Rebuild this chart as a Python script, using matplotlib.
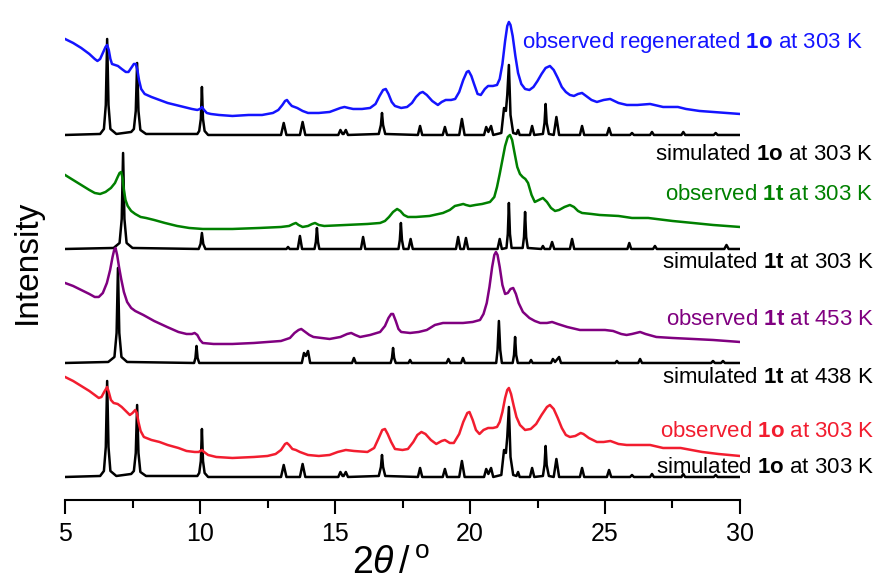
import numpy as np
import matplotlib.pyplot as plt
from matplotlib.ticker import MultipleLocator

plt.rcParams['font.family'] = ['Liberation Sans', 'DejaVu Sans']
plt.rcParams['mathtext.fontset'] = 'custom'
plt.rcParams['mathtext.rm'] = 'Liberation Sans'
plt.rcParams['mathtext.it'] = 'Liberation Sans:italic'
plt.rcParams['mathtext.bf'] = 'Liberation Sans:bold'

# simulated pattern of 1o at 303 K (2theta, intensity)
sim_1o = [(5.0, 0), (6.3, 1), (6.44, 6), (6.51, 30), (6.56, 96), (6.61, 30), (6.68, 6), (6.9, 1),
          (7.45, 3), (7.55, 6), (7.62, 24), (7.67, 72), (7.72, 24), (7.79, 5), (8.0, 1),
          (9.9, 1), (9.97, 4), (10.03, 16), (10.07, 48), (10.11, 16), (10.17, 4), (10.3, 0),
          (13.0, 0), (13.1, 12), (13.2, 0), (13.7, 0), (13.8, 13), (13.9, 0),
          (15.12, 0), (15.2, 5), (15.28, 1), (15.32, 1), (15.4, 5), (15.48, 0),
          (16.62, 1), (16.7, 10), (16.74, 22), (16.78, 10), (16.86, 1),
          (18.07, 0), (18.15, 9), (18.23, 0), (18.99, 0), (19.07, 8), (19.15, 0),
          (19.6, 0), (19.7, 16), (19.8, 0), (20.52, 0), (20.6, 8), (20.68, 3), (20.78, 9), (20.86, 0),
          (21.16, 2), (21.26, 27), (21.33, 24), (21.38, 40), (21.44, 70), (21.5, 20), (21.6, 2),
          (21.72, 1), (21.78, 5), (21.84, 0), (22.22, 0), (22.3, 9), (22.38, 0),
          (22.7, 1), (22.76, 12), (22.8, 31), (22.84, 12), (22.92, 1), (23.1, 0), (23.2, 18), (23.3, 0),
          (24.07, 0), (24.15, 9), (24.23, 0), (25.07, 0), (25.15, 7), (25.23, 0),
          (25.93, 0), (26.0, 2), (26.07, 0), (26.67, 0), (26.74, 3), (26.81, 0),
          (27.83, 0), (27.9, 3), (27.97, 0), (29.03, 0), (29.1, 2), (29.17, 0), (30.0, 0)]

# simulated pattern of 1t at 303 K
sim_1t_303 = [(5.0, 0), (6.8, 1), (7.02, 6), (7.1, 30), (7.15, 96), (7.2, 30), (7.28, 6), (7.5, 1),
              (9.95, 0), (10.02, 5), (10.07, 16), (10.12, 5), (10.2, 0), (13.2, 0), (13.26, 2), (13.32, 0),
              (13.62, 0), (13.7, 13), (13.78, 0), (14.24, 0), (14.29, 7), (14.33, 21), (14.37, 7), (14.42, 0),
              (15.96, 0), (16.04, 12), (16.12, 0), (17.35, 0), (17.4, 9), (17.44, 26), (17.48, 9), (17.54, 0),
              (17.72, 0), (17.8, 10), (17.88, 0), (19.48, 0), (19.56, 12), (19.64, 0),
              (19.77, 0), (19.85, 11), (19.93, 0), (21.02, 0), (21.1, 10), (21.18, 0),
              (21.35, 1), (21.4, 15), (21.44, 46), (21.48, 15), (21.54, 1),
              (21.95, 1), (22.0, 12), (22.04, 37), (22.08, 12), (22.14, 1),
              (22.64, 0), (22.7, 3), (22.76, 0), (22.96, 0), (23.04, 7), (23.12, 0),
              (23.7, 0), (23.78, 10), (23.86, 0), (25.83, 0), (25.9, 6), (25.97, 0),
              (26.78, 0), (26.85, 3), (26.92, 0), (29.42, 0), (29.5, 4), (29.58, 0), (30.0, 0)]

# simulated pattern of 1t at 438 K
sim_1t_438 = [(5.0, 0), (6.6, 1), (6.83, 6), (6.91, 30), (6.96, 95), (7.01, 30), (7.09, 6), (7.3, 1),
              (9.78, 0), (9.83, 5), (9.87, 17), (9.91, 5), (9.97, 0),
              (13.77, 0), (13.85, 10), (13.92, 7), (14.0, 12), (14.08, 0), (15.63, 0), (15.7, 5), (15.77, 0),
              (17.06, 0), (17.11, 5), (17.15, 15), (17.19, 5), (17.25, 0), (17.72, 0), (17.78, 3), (17.84, 0),
              (19.13, 0), (19.2, 4), (19.27, 0), (19.67, 0), (19.74, 5), (19.81, 0),
              (20.97, 0), (21.02, 13), (21.07, 42), (21.12, 13), (21.18, 0),
              (21.58, 0), (21.63, 8), (21.67, 26), (21.71, 8), (21.77, 0),
              (22.2, 0), (22.26, 3), (22.32, 0), (23.0, 0), (23.07, 4), (23.15, 1), (23.3, 6), (23.37, 0),
              (25.38, 0), (25.44, 2), (25.5, 0), (26.23, 0), (26.3, 4), (26.37, 0),
              (28.93, 0), (29.0, 2), (29.07, 0), (29.3, 0), (29.37, 2), (29.44, 0), (30.0, 0)]

# observed regenerated 1o at 303 K
obs_regen = [(5.0, 77), (5.3, 73), (5.6, 68), (5.9, 62), (6.1, 57), (6.2, 55), (6.3, 57), (6.4, 63),
             (6.5, 69), (6.56, 71), (6.62, 66), (6.68, 57), (6.74, 52), (6.85, 51), (6.96, 50), (7.1, 47),
             (7.25, 44), (7.35, 44), (7.45, 48), (7.55, 52), (7.62, 52), (7.68, 46), (7.74, 36), (7.82, 27),
             (7.95, 22), (8.2, 19), (8.5, 16), (8.8, 13), (9.1, 11), (9.4, 9), (9.7, 7), (9.9, 6), (10.0, 7),
             (10.07, 9), (10.15, 6), (10.25, 3), (10.4, 2), (10.7, 1), (11.2, 0), (11.8, 1), (12.3, 1),
             (12.7, 3), (12.9, 6), (13.05, 11), (13.15, 15), (13.22, 16), (13.3, 13), (13.4, 10), (13.5, 9),
             (13.6, 8), (13.8, 5), (14.0, 3), (14.4, 3), (14.8, 4), (15.0, 6), (15.2, 8), (15.35, 9),
             (15.5, 8), (15.67, 7), (16.0, 7), (16.3, 8), (16.5, 12), (16.65, 20), (16.78, 26), (16.88, 27),
             (16.98, 22), (17.1, 14), (17.22, 10), (17.45, 8), (17.67, 9), (17.85, 13), (18.0, 19),
             (18.15, 23), (18.25, 24), (18.4, 21), (18.6, 15), (18.81, 11), (18.95, 14), (19.1, 16),
             (19.3, 16), (19.45, 17), (19.6, 24), (19.75, 36), (19.88, 44), (19.95, 45), (20.05, 40),
             (20.15, 32), (20.28, 22), (20.4, 21), (20.55, 27), (20.67, 30), (20.85, 30), (21.0, 31),
             (21.1, 37), (21.2, 52), (21.3, 75), (21.38, 90), (21.44, 94), (21.5, 91), (21.58, 80),
             (21.68, 60), (21.78, 43), (21.9, 32), (22.04, 27), (22.2, 26), (22.35, 29), (22.5, 35),
             (22.65, 42), (22.8, 48), (22.96, 50), (23.1, 46), (23.25, 38), (23.4, 29), (23.55, 24),
             (23.7, 21), (23.85, 20), (24.0, 22), (24.15, 23), (24.3, 20), (24.5, 16), (24.7, 14),
             (24.95, 16), (25.19, 17), (25.5, 13), (25.81, 11), (26.2, 11), (26.67, 12), (27.15, 9),
             (27.7, 9), (28.0, 7), (28.5, 5), (29.0, 4), (30.0, 2)]

# observed 1t at 303 K
obs_1t_303 = [(5.0, 55), (5.3, 50), (5.6, 45), (5.9, 40), (6.1, 37), (6.3, 36), (6.5, 38), (6.7, 42),
              (6.85, 47), (6.95, 53), (7.02, 57), (7.08, 58), (7.13, 52), (7.18, 40), (7.24, 30), (7.32, 24),
              (7.45, 19), (7.6, 16), (7.8, 13), (8.0, 12), (8.3, 10), (8.7, 7), (9.15, 4), (9.6, 2),
              (10.1, 1), (11.2, 1), (12.2, 2), (13.0, 3), (13.3, 4), (13.45, 6), (13.55, 7), (13.65, 5),
              (13.8, 3), (14.0, 4), (14.15, 6), (14.26, 7), (14.4, 5), (14.6, 4), (15.4, 5), (16.2, 6),
              (16.67, 7), (16.85, 9), (17.0, 13), (17.15, 18), (17.3, 21), (17.42, 19), (17.55, 15),
              (17.7, 13), (18.0, 13), (18.5, 14), (19.0, 17), (19.25, 20), (19.44, 24), (19.6, 25),
              (19.75, 26), (19.85, 25), (20.0, 24), (20.2, 25), (20.45, 26), (20.74, 28), (20.9, 33),
              (21.0, 43), (21.1, 56), (21.2, 70), (21.3, 84), (21.4, 93), (21.48, 95), (21.56, 90),
              (21.65, 77), (21.75, 63), (21.85, 56), (21.95, 53), (22.05, 51), (22.15, 47), (22.28, 35),
              (22.4, 28), (22.55, 30), (22.7, 32), (22.85, 28), (23.0, 22), (23.15, 19), (23.3, 20),
              (23.5, 23), (23.7, 25), (23.85, 23), (24.0, 19), (24.15, 17), (24.5, 16), (24.8, 15),
              (25.5, 14), (26.0, 12), (26.3, 12), (26.6, 12), (26.9, 11), (27.5, 9), (28.26, 7),
              (29.0, 5), (30.0, 3)]

# observed 1t at 453 K
obs_1t_453 = [(5.0, 62), (5.3, 59), (5.6, 55), (5.9, 51), (6.1, 48), (6.25, 48), (6.4, 52), (6.55, 62),
              (6.67, 75), (6.76, 88), (6.82, 95), (6.87, 97), (6.93, 90), (7.0, 78), (7.08, 66), (7.18, 53),
              (7.3, 43), (7.45, 37), (7.6, 34), (7.9, 30), (8.3, 24), (8.78, 18), (9.2, 13), (9.5, 11),
              (9.7, 11), (9.8, 12), (9.9, 10), (10.0, 5), (10.1, 2), (10.5, 1), (11.2, 1), (12.0, 2),
              (12.5, 3), (13.0, 4), (13.33, 7), (13.5, 12), (13.65, 15), (13.75, 16), (13.9, 13),
              (14.05, 10), (14.2, 8), (14.5, 7), (14.8, 6), (15.2, 8), (15.45, 11), (15.6, 12), (15.75, 10),
              (15.93, 8), (16.3, 10), (16.67, 13), (16.85, 19), (16.98, 27), (17.08, 31), (17.15, 31),
              (17.25, 24), (17.35, 16), (17.45, 13), (17.78, 12), (18.1, 13), (18.4, 15), (18.7, 20),
              (19.0, 22), (19.4, 22), (19.74, 22), (20.1, 23), (20.37, 25), (20.5, 31), (20.62, 42),
              (20.72, 58), (20.82, 78), (20.9, 90), (20.96, 93), (21.02, 90), (21.1, 78), (21.2, 60),
              (21.3, 51), (21.4, 52), (21.5, 56), (21.6, 57), (21.7, 51), (21.8, 42), (21.96, 33),
              (22.2, 27), (22.4, 24), (22.6, 22), (22.85, 22), (23.04, 23), (23.25, 21), (23.6, 18),
              (24.07, 15), (24.6, 15), (25.0, 15), (25.3, 14), (25.6, 11), (25.8, 10), (26.0, 11),
              (26.3, 13), (26.5, 11), (26.9, 8), (27.5, 7), (28.26, 6), (29.0, 5), (30.0, 3)]

# observed 1o at 303 K
obs_1o_303 = [(5.0, 83), (5.3, 79), (5.6, 74), (5.9, 69), (6.1, 65), (6.25, 62), (6.35, 63), (6.45, 68),
              (6.56, 73), (6.62, 68), (6.7, 60), (6.8, 57), (6.95, 56), (7.1, 53), (7.25, 49), (7.4, 45),
              (7.5, 47), (7.6, 50), (7.66, 47), (7.72, 38), (7.8, 29), (7.92, 23), (8.2, 20), (8.5, 18),
              (8.8, 15), (9.2, 12), (9.5, 9), (9.8, 8), (9.95, 8), (10.07, 10), (10.15, 8), (10.3, 5),
              (10.6, 3), (11.2, 2), (12.0, 3), (12.5, 4), (12.8, 6), (13.0, 10), (13.15, 16), (13.22, 17),
              (13.3, 15), (13.42, 11), (13.55, 10), (13.7, 8), (14.0, 5), (14.4, 4), (14.8, 5), (15.1, 8),
              (15.4, 10), (15.7, 9), (16.2, 8), (16.45, 12), (16.62, 22), (16.75, 30), (16.85, 31),
              (16.95, 26), (17.08, 18), (17.22, 11), (17.5, 10), (17.7, 11), (17.9, 18), (18.05, 25),
              (18.2, 28), (18.35, 26), (18.55, 20), (18.75, 16), (18.95, 19), (19.07, 20), (19.25, 17),
              (19.4, 17), (19.6, 26), (19.75, 38), (19.9, 47), (19.98, 48), (20.1, 40), (20.22, 30),
              (20.35, 26), (20.5, 30), (20.67, 32), (20.85, 32), (21.0, 33), (21.1, 38), (21.2, 48),
              (21.3, 62), (21.38, 70), (21.44, 72), (21.52, 66), (21.62, 54), (21.72, 43), (21.85, 35),
              (22.04, 30), (22.25, 31), (22.45, 36), (22.65, 45), (22.85, 53), (22.96, 55), (23.1, 51),
              (23.25, 42), (23.4, 32), (23.55, 25), (23.7, 23), (23.9, 24), (24.1, 27), (24.2, 26),
              (24.4, 22), (24.7, 18), (24.95, 18), (25.2, 19), (25.5, 16), (25.8, 15), (26.2, 15),
              (26.67, 15), (27.15, 12), (27.5, 12), (27.8, 12), (28.2, 10), (28.6, 8), (29.2, 6), (30.0, 4)]

# (pattern, vertical offset, colour, label)
traces = [
    (sim_1o, 23, 'black', r'simulated $\mathbf{1o}$ at 303 K'),
    (obs_1o_303, 40, '#f21d2f', r'observed $\mathbf{1o}$ at 303 K'),
    (sim_1t_438, 137, 'black', r'simulated $\mathbf{1t}$ at 438 K'),
    (obs_1t_453, 155, '#800080', r'observed $\mathbf{1t}$ at 453 K'),
    (sim_1t_303, 251, 'black', r'simulated $\mathbf{1t}$ at 303 K'),
    (obs_1t_303, 270, '#008000', r'observed $\mathbf{1t}$ at 303 K'),
    (sim_1o, 365, 'black', r'simulated $\mathbf{1o}$ at 303 K'),
    (obs_regen, 384, '#1414ff', r'observed regenerated $\mathbf{1o}$ at 303 K'),
]
label_pos = [(34.98, 32), (34.98, 68), (34.98, 122), (34.98, 180),
             (34.98, 237), (34.93, 305), (34.93, 345), (34.56, 457)]

fig = plt.figure(figsize=(8.8, 5.83), dpi=100)
ax = fig.add_axes([0.0739, 0.1424, 0.767, 0.8405])

for (pat, off, col, lab), (tx, ty) in zip(traces, label_pos):
    d = np.array(pat)
    ax.plot(d[:, 0], d[:, 1] + off, color=col, lw=1.8, zorder=2 if col == 'black' else 3,
            solid_joinstyle='round')
    ax.text(tx, ty, lab, color=col, fontsize=16, ha='right', va='center')

ax.set_xlim(5, 30)
ax.set_ylim(0, 490)
for s in ['left', 'top', 'right']:
    ax.spines[s].set_visible(False)
ax.spines['bottom'].set_linewidth(1.5)
ax.set_yticks([])
ax.xaxis.set_major_locator(MultipleLocator(5))
ax.xaxis.set_minor_locator(MultipleLocator(2.5))
ax.tick_params(axis='x', which='major', direction='out', length=10, width=1.5, labelsize=18, pad=6)
ax.tick_params(axis='x', which='minor', direction='out', length=6, width=1.5)

ax.set_xlabel(r'$\mathrm{2}\theta\,/\,^{\mathrm{o}}$', fontsize=27)
ax.xaxis.label.set_va('center')
ax.xaxis.set_label_coords(0.483, -0.13)
ax.set_ylabel('Intensity', fontsize=24)
ax.yaxis.label.set_va('center')
ax.yaxis.set_label_coords(-0.056, 0.486)

plt.savefig('out.png', dpi=100)
